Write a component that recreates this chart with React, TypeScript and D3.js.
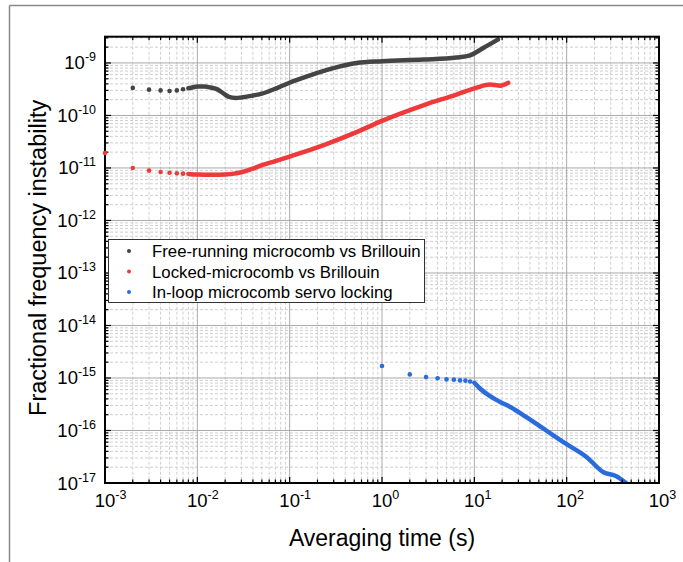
import React from 'react';
import * as d3 from 'd3';

// ---------- data ----------
const freeDotsX = [0.002, 0.003, 0.004, 0.005, 0.006, 0.007];
const freeDotsY = [3.35e-10, 3.1e-10, 3.0e-10, 2.93e-10, 3.0e-10, 3.15e-10];
const freeCurveX = [0.008, 0.009, 0.01, 0.012, 0.014, 0.016, 0.018, 0.02, 0.022, 0.026, 0.03, 0.04, 0.05, 0.075, 0.11, 0.16, 0.23, 0.35, 0.53, 1.0, 2.8, 6.4, 9, 12.5, 18];
const freeCurveY = [3.3e-10, 3.45e-10, 3.55e-10, 3.55e-10, 3.4e-10, 3.2e-10, 2.85e-10, 2.5e-10, 2.25e-10, 2.15e-10, 2.2e-10, 2.4e-10, 2.6e-10, 3.4e-10, 4.5e-10, 5.7e-10, 7.0e-10, 8.6e-10, 1.0e-9, 1.08e-9, 1.16e-9, 1.27e-9, 1.4e-9, 1.93e-9, 2.8e-9];

const lockDotsX = [0.001, 0.002, 0.003, 0.004, 0.005, 0.006, 0.007];
const lockDotsY = [1.93e-11, 1.0e-11, 8.9e-12, 8.4e-12, 8.1e-12, 7.9e-12, 7.8e-12];
const lockCurveX = [0.008, 0.01, 0.015, 0.02, 0.025, 0.03, 0.04, 0.05, 0.07, 0.1, 0.23, 0.53, 1.0, 2.8, 6.4, 10.6, 14.8, 19, 23.3];
const lockCurveY = [7.7e-12, 7.5e-12, 7.4e-12, 7.5e-12, 7.8e-12, 8.3e-12, 9.7e-12, 1.13e-11, 1.35e-11, 1.65e-11, 2.7e-11, 4.8e-11, 7.9e-11, 1.56e-10, 2.5e-10, 3.4e-10, 3.9e-10, 3.7e-10, 4.2e-10];

const loopDotsX = [1, 2, 3, 4, 5, 6, 7, 8, 9];
const loopDotsY = [1.69e-15, 1.17e-15, 1.04e-15, 0.99e-15, 0.94e-15, 0.93e-15, 0.9e-15, 0.89e-15, 0.86e-15];
const loopCurveX = [10, 11.5, 14.5, 19, 24.5, 36.6, 60, 98, 165, 250, 345, 440];
const loopCurveY = [8.1e-16, 6.3e-16, 4.6e-16, 3.5e-16, 2.8e-16, 1.8e-16, 1.0e-16, 5.6e-17, 3.1e-17, 1.6e-17, 1.35e-17, 1.0e-17];

const seriesNames = ['Free-running microcomb vs Brillouin', 'Locked-microcomb vs Brillouin', 'In-loop microcomb servo locking'];
const seriesColors = ['#444444', '#ee3a3a', '#2a6cdc'];

const xTickExps = [-3, -2, -1, 0, 1, 2, 3];
const yTickExps = [-17, -16, -15, -14, -13, -12, -11, -10, -9];

const xTitle = 'Averaging time (s)';
const yTitle = 'Fractional frequency instability';

// ---------- layout ----------
const W = 683, H = 562;
const L = 105, R = 659, T = 36.7, B = 483;
const FONT = "'Liberation Sans', Arial, sans-serif";

export default function App() {
  const x = d3.scaleLog().domain([1e-3, 1e3]).range([L, R]);
  const y = d3.scaleLog().domain([1e-17, Math.pow(10, -8.5)]).range([B, T]);

  const xMinor: number[] = [];
  for (let e = -3; e < 3; e++) for (let k = 2; k <= 9; k++) xMinor.push(k * Math.pow(10, e));
  const yMinor: number[] = [];
  for (let e = -17; e < -8; e++) for (let k = 2; k <= 9; k++) {
    const v = k * Math.pow(10, e);
    if (v <= Math.pow(10, -8.5)) yMinor.push(v);
  }

  const line = d3.line<[number, number]>()
    .x(d => x(d[0]))
    .y(d => y(d[1]))
    .curve(d3.curveMonotoneX);

  const series = [
    { dx: freeDotsX, dy: freeDotsY, cx: freeCurveX, cy: freeCurveY },
    { dx: lockDotsX, dy: lockDotsY, cx: lockCurveX, cy: lockCurveY },
    { dx: loopDotsX, dy: loopDotsY, cx: loopCurveX, cy: loopCurveY },
  ];

  return (
    <svg width={W} height={H} style={{ position: 'absolute', left: 0, top: 0, background: '#fff' }} fontFamily={FONT}>
      <defs>
        <clipPath id="plotclip">
          <rect x={L} y={T} width={R - L} height={B - T} />
        </clipPath>
      </defs>
      <rect x={0} y={0} width={W} height={H} fill="#fff" />
      {/* outer frame */}
      <line x1={9.5} y1={5.5} x2={W} y2={5.5} stroke="#888" strokeWidth={1.5} />
      <line x1={9.5} y1={5.5} x2={9.5} y2={H} stroke="#888" strokeWidth={1.5} />

      {/* minor grid */}
      <g stroke="#cfcfcf" strokeWidth={1} strokeDasharray="3,2">
        {xMinor.map((v, i) => <line key={'xm' + i} x1={x(v)} x2={x(v)} y1={T} y2={B} />)}
        {yMinor.map((v, i) => <line key={'ym' + i} x1={L} x2={R} y1={y(v)} y2={y(v)} />)}
      </g>
      {/* major grid */}
      <g stroke="#aaaaaa" strokeWidth={1}>
        {xTickExps.map(e => <line key={'xg' + e} x1={x(Math.pow(10, e))} x2={x(Math.pow(10, e))} y1={T} y2={B} />)}
        {yTickExps.map(e => <line key={'yg' + e} x1={L} x2={R} y1={y(Math.pow(10, e))} y2={y(Math.pow(10, e))} />)}
      </g>

      {/* data curves */}
      <g clipPath="url(#plotclip)">
        {series.map((s, i) => (
          <path key={'c' + i} d={line(s.cx.map((v, j) => [v, s.cy[j]] as [number, number])) || ''} fill="none" stroke={seriesColors[i]} strokeWidth={4.5} strokeLinejoin="round" strokeLinecap="round" />
        ))}
      </g>

      {/* ticks */}
      <g stroke="#000" strokeWidth={1.2}>
        {xTickExps.map(e => {
          const px = x(Math.pow(10, e));
          return <g key={'xt' + e}>
            <line x1={px} x2={px} y1={B} y2={B - 6} />
            <line x1={px} x2={px} y1={T} y2={T + 6} />
          </g>;
        })}
        {xMinor.map((v, i) => <g key={'xmt' + i}>
          <line x1={x(v)} x2={x(v)} y1={B} y2={B - 3.5} />
          <line x1={x(v)} x2={x(v)} y1={T} y2={T + 3.5} />
        </g>)}
        {yTickExps.map(e => {
          const py = y(Math.pow(10, e));
          return <g key={'yt' + e}>
            <line x1={L} x2={L + 6} y1={py} y2={py} />
            <line x1={R} x2={R - 6} y1={py} y2={py} />
          </g>;
        })}
        {yMinor.map((v, i) => <g key={'ymt' + i}>
          <line x1={L} x2={L + 3.5} y1={y(v)} y2={y(v)} />
          <line x1={R} x2={R - 3.5} y1={y(v)} y2={y(v)} />
        </g>)}
      </g>

      {/* axes frame */}
      <rect x={L} y={T} width={R - L} height={B - T} fill="none" stroke="#000" strokeWidth={2} />

      {/* data dots (drawn over frame so edge points show) */}
      {series.map((s, i) => (
        <g key={'d' + i}>
          {s.dx.map((v, j) => <circle key={j} cx={x(v)} cy={y(s.dy[j])} r={2.3} fill={seriesColors[i]} />)}
        </g>
      ))}

      {/* x tick labels */}
      <g fontSize={18.5} fill="#000">
        {xTickExps.map(e => (
          <text key={'xl' + e} x={x(Math.pow(10, e)) - 10.3} y={507}>
            10<tspan fontSize={12.5} dy={-8}>{String(e)}</tspan>
          </text>
        ))}
      </g>
      {/* y tick labels */}
      <g fontSize={18.5} fill="#000">
        {yTickExps.map(e => (
          <text key={'yl' + e} x={96} y={y(Math.pow(10, e)) + 6.5} textAnchor="end">
            10<tspan fontSize={12.5} dy={-8}>{String(e)}</tspan>
          </text>
        ))}
      </g>

      {/* axis titles */}
      <text x={(L + R) / 2} y={546} textAnchor="middle" fontSize={23} fill="#000">{xTitle}</text>
      <text transform={`translate(46, ${(T + B) / 2 - 2}) rotate(-90)`} textAnchor="middle" fontSize={23.5} fill="#000">{yTitle}</text>

      {/* legend */}
      <rect x={108.5} y={239.5} width={316} height={63} fill="#fff" stroke="#333" strokeWidth={1} />
      {seriesNames.map((n, i) => (
        <g key={'lg' + i}>
          <circle cx={129} cy={251 + i * 20.5} r={2} fill={seriesColors[i]} />
          <text x={152} y={251 + i * 20.5 + 6} fontSize={16.8} fill="#000">{n}</text>
        </g>
      ))}
    </svg>
  );
}
